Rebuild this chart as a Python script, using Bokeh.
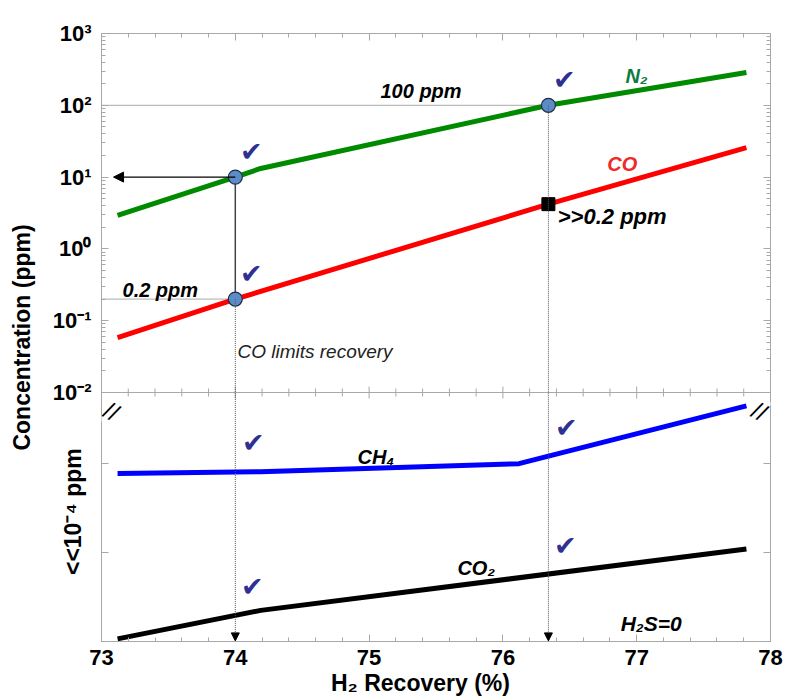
import numpy as np
from bokeh.plotting import figure
from bokeh.models import (Range1d, LinearScale, LinearAxis, LogAxis, FixedTicker,
                          SingleIntervalTicker, CustomJSTickFormatter, Span, Arrow,
                          NormalHead, Label)
from bokeh.core.properties import value
from bokeh.embed import file_html
from bokeh.resources import INLINE

# ---------------- data ----------------
# upper panel: concentration in ppm (log scale)
x_n2 = [73.12, 74.0, 74.19, 76.34, 77.82]
y_n2 = [2.92, 10.0, 13.2, 100.0, 286.0]
x_co = [73.12, 74.0, 76.34, 77.82]
y_co = [0.058, 0.2, 4.2, 25.8]
# lower panel: << 1e-4 ppm, arbitrary linear units
x_ch4 = [73.12, 74.19, 76.12, 77.82]
y_ch4 = [1.89, 1.91, 2.0, 2.65]
x_co2 = [73.12, 74.19, 77.82]
y_co2 = [0.03, 0.35, 1.04]
# highlighted operating points
x_pts = [74.0, 74.0, 76.34]
y_pts = [10.0, 0.2, 100.0]
x_sq = [76.34]
y_sq = [4.2]
# axis ticks
y_major = [1e-2, 1e-1, 1e0, 1e1, 1e2, 1e3]
y_major_labels = ["10\u207b\u00b2", "10\u207b\u00b9", "10\u2070", "10\u00b9", "10\u00b2", "10\u00b3"]
lower_ticks = [1.0, 2.0]

FONT = "Liberation Sans"
AX = "#a8a8a8"
X0, X1 = 73, 78
LOG_TOP, LOG_BREAK = 3, -2
LOWER_TOP = 2.8            # lower-panel units at the break line
LOWER_RATIO = 249 / 359    # lower-panel height / upper-panel height
log_lo = LOG_BREAK - (LOG_TOP - LOG_BREAK) * LOWER_RATIO
lin_hi = LOWER_TOP * (1 + 1 / LOWER_RATIO)
LOWER_TITLE_AT = 1.46      # where the lower-panel title sits (lower units)
X_TITLE_AT = 75.384        # where the x title is centred (x units)


def lin_to_log(v):
    return 10 ** (log_lo + v / lin_hi * (LOG_TOP - log_lo))


p = figure(width=787, height=700, x_range=Range1d(X0, X1),
           y_range=Range1d(10 ** log_lo, 10 ** LOG_TOP), y_axis_type="log",
           output_backend="svg", toolbar_location=None,
           min_border_left=101, min_border_right=17, min_border_top=33, min_border_bottom=59)
p.extra_y_ranges = {"lin": Range1d(0, lin_hi)}
p.extra_y_scales = {"lin": LinearScale()}
p.xgrid.visible = False
p.ygrid.visible = False
p.outline_line_color = AX
p.background_fill_color = "white"
p.border_fill_color = "white"


def const_fmt(s):
    return CustomJSTickFormatter(args=dict(s=s), code="return s")


def style(ax):
    ax.axis_line_color = AX
    ax.major_tick_line_color = AX
    ax.minor_tick_line_color = AX
    ax.major_tick_in = 7
    ax.major_tick_out = 0
    ax.minor_tick_in = 4
    ax.minor_tick_out = 0
    ax.major_label_text_font = FONT
    ax.major_label_text_font_style = "bold"
    ax.major_label_text_font_size = "22px"
    ax.major_label_text_color = "black"


def title_axis(ax):
    ax.axis_line_color = None
    ax.major_tick_line_color = None
    ax.minor_tick_line_color = None
    ax.major_tick_in = 0
    ax.major_tick_out = 0
    ax.minor_tick_in = 0
    ax.minor_tick_out = 0
    ax.major_label_text_font = FONT
    ax.major_label_text_font_style = "bold"
    ax.major_label_text_font_size = "23px"
    ax.major_label_text_color = "black"


xticker = SingleIntervalTicker(interval=1, num_minor_ticks=5)
y_minor = [k * 10.0 ** e for e in range(-2, 3) for k in range(2, 10)]
yticker = FixedTicker(ticks=y_major + [lin_to_log(t) for t in lower_ticks], minor_ticks=y_minor)

# bottom axis with the tick labels
bx = p.xaxis[0]
bx.ticker = xticker
style(bx)
bx.major_label_standoff = 8

# x title, as the single label of a second bottom axis
xt = LinearAxis(ticker=FixedTicker(ticks=[X_TITLE_AT]), formatter=const_fmt("H\u2082 Recovery (%)"))
title_axis(xt)
xt.major_label_standoff = 2
p.add_layout(xt, "below")

top = LinearAxis(ticker=xticker, formatter=const_fmt(""))
style(top)
top.major_label_text_font_size = "1px"
top.major_label_standoff = 0
p.add_layout(top, "above")

ly = p.yaxis[0]
ly.ticker = yticker
ly.formatter = CustomJSTickFormatter(args=dict(vals=y_major, labs=y_major_labels), code="""
for (let i = 0; i < vals.length; i++) {
  if (Math.abs(Math.log10(tick) - Math.log10(vals[i])) < 1e-6) return labs[i];
}
return "";
""")
style(ly)
ly.major_label_standoff = 10

# outer left axis: lower-panel title as a tick label, main y title as axis label
lt = LinearAxis(y_range_name="lin", ticker=FixedTicker(ticks=[LOWER_TITLE_AT]),
                formatter=const_fmt("<<10\u207b\u2074 ppm"))
title_axis(lt)
lt.major_label_orientation = "vertical"
lt.major_label_standoff = -37
lt.axis_label = "Concentration (ppm)"
lt.axis_label_text_font = FONT
lt.axis_label_text_font_style = "bold"
lt.axis_label_text_font_size = "23px"
lt.axis_label_text_color = "black"
lt.axis_label_standoff = 23
p.add_layout(lt, "left")

ry = LogAxis(ticker=yticker, formatter=const_fmt(""))
style(ry)
ry.major_label_text_font_size = "1px"
ry.major_label_standoff = 0
p.add_layout(ry, "right")

# break line between the two panels, with ticks both ways
p.add_layout(Span(location=10 ** LOG_BREAK, dimension="width", line_color=AX, line_width=1))
x_major = list(range(X0, X1 + 1))
xt_minor = [v for v in np.arange(X0, X1 + 1e-9, 0.2) if abs(v - round(v)) > 1e-6]
p.scatter(x_major, [10 ** LOG_BREAK] * len(x_major), marker="dash", angle=np.pi / 2,
          size=12, line_color=AX, line_width=1)
p.scatter(xt_minor, [10 ** LOG_BREAK] * len(xt_minor), marker="dash", angle=np.pi / 2,
          size=8, line_color=AX, line_width=1)

# guide lines
GUIDE = "#555555"
p.line([X0, x_pts[2]], [y_pts[2], y_pts[2]], line_color=GUIDE, line_dash="1 1", line_width=1)
p.line([X0, x_pts[1]], [y_pts[1], y_pts[1]], line_color=GUIDE, line_dash="1 1", line_width=1)
p.line([x_pts[0], x_pts[1]], [y_pts[0], y_pts[1]], line_color="#444444", line_width=1.5)
p.add_layout(Arrow(x_start=x_pts[0], y_start=y_pts[0], x_end=73.09, y_end=y_pts[0],
                   line_color="black", line_width=1.2,
                   end=NormalHead(size=10, fill_color="black", line_color="black")))
for xs, ys in [(x_pts[1], y_pts[1]), (x_pts[2], y_pts[2])]:
    p.add_layout(Arrow(x_start=xs, y_start=ys, x_end=xs, y_end=10 ** log_lo * 1.02,
                       line_color=GUIDE, line_width=1, line_dash="1 1",
                       end=NormalHead(size=8, fill_color="black", line_color="black")))

# series
p.line(x_n2, y_n2, line_color="#008a00", line_width=5)
p.line(x_co, y_co, line_color="#ff0000", line_width=5)
p.line(x_ch4, y_ch4, line_color="#0000ff", line_width=5, y_range_name="lin")
p.line(x_co2, y_co2, line_color="black", line_width=5, y_range_name="lin")

p.scatter(x_pts, y_pts, marker="circle", size=14, fill_color="#5b8cc8",
          line_color="#1f2a44", line_width=1.2)
p.scatter(x_sq, y_sq, marker="square", size=13, fill_color="black", line_color="black")

# check marks
CHECK = "#2e3192"
CK = dict(text_font=value("DejaVu Sans"), text_font_size="27px", text_color=CHECK,
          text_align="center", text_baseline="middle")
p.text(x_pts, y_pts, text=["\u2714"] * 3, x_offset=16, y_offset=-26, **CK)
x_chk = [74.0, 76.34]
p.text(x_chk, [float(np.interp(x, x_ch4, y_ch4)) for x in x_chk], text=["\u2714"] * 2,
       x_offset=18, y_offset=-29, y_range_name="lin", **CK)
p.text(x_chk, [float(np.interp(x, x_co2, y_co2)) for x in x_chk], text=["\u2714"] * 2,
       x_offset=17, y_offset=-29, y_range_name="lin", **CK)


# annotations inside the plot
def txt(x, y, s, color="black", size="20px", style="bold italic", **kw):
    p.text([x], [y], text=[s], text_font=value(FONT), text_font_size=size,
           text_font_style=style, text_color=color, text_align="left",
           text_baseline="alphabetic", **kw)


txt(75.085, 156, "100 ppm")
txt(73.157, 0.264, "0.2 ppm")
txt(74.016, 0.0372, "CO limits recovery", size="19px", style="italic", color="#222222")
txt(76.916, 252, "N\u2082", color="#0f7a45")
txt(76.78, 15.2, "CO", color="#ee2a2a")
txt(76.41, 2.83, ">>0.2 ppm", size="22px")
txt(74.913, 2.08, "CH\u2084", y_range_name="lin")
txt(75.66, 0.83, "CO\u2082", y_range_name="lin")
txt(76.88, 0.20, "H\u2082S=0", size="21px", y_range_name="lin")

# axis break marks
for bx_ in [10, 658]:
    p.add_layout(Label(x=bx_, y=230, x_units="screen", y_units="screen", text="//",
                       angle=-0.5, text_align="center", text_baseline="middle",
                       text_font=FONT, text_font_size="24px", text_color="black",
                       background_fill_color="white"))

open("out.html", "w").write(file_html(p, INLINE))
